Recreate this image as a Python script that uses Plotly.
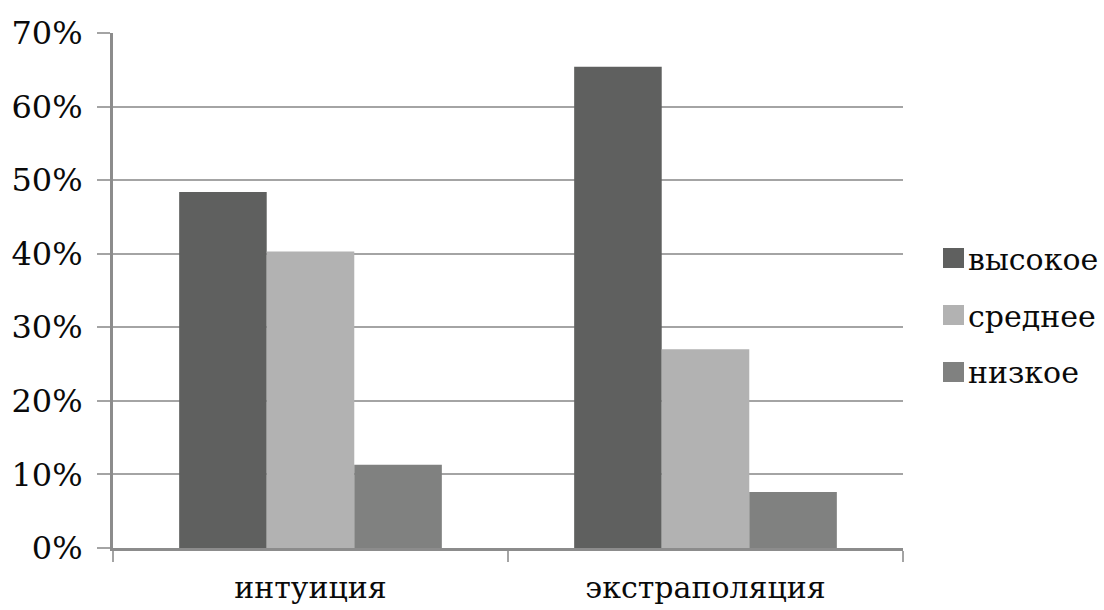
import plotly.graph_objects as go

# Data
categories = ["интуиция", "экстраполяция"]
series_names = ["высокое", "среднее", "низкое"]
high = [0.484, 0.654]
medium = [0.403, 0.270]
low = [0.113, 0.076]
series_values = [high, medium, low]
colors = ["#5f605f", "#b2b2b2", "#808180"]

y_ticks = [0, 0.1, 0.2, 0.3, 0.4, 0.5, 0.6, 0.7]

FONT = "DejaVu Serif"
W, H = 1104, 610
M_L, M_R, M_T, M_B = 113, 201, 33, 62

fig = go.Figure()
for name, vals, col in zip(series_names, series_values, colors):
    fig.add_trace(go.Bar(
        x=categories, y=vals, name=name,
        marker=dict(color=col, line=dict(width=0)),
        showlegend=False,
    ))

# Legend drawn as swatches + labels to the right of the plot area
plot_w = W - M_L - M_R
plot_h = H - M_T - M_B
def px_x(px):
    return (px - M_L) / plot_w
def px_y(py):
    return (H - M_B - py) / plot_h

leg_left, sw_w, sw_h = 943, 21, 20
leg_centers = [258, 315, 372]
shapes = []
annotations = []
for name, col, cy in zip(series_names, colors, leg_centers):
    shapes.append(dict(
        type="rect", xref="paper", yref="paper",
        x0=px_x(leg_left), x1=px_x(leg_left + sw_w),
        y0=px_y(cy + sw_h / 2), y1=px_y(cy - sw_h / 2),
        fillcolor=col, line=dict(width=0),
    ))
    annotations.append(dict(
        xref="paper", yref="paper", x=px_x(leg_left + sw_w + 2), y=px_y(cy + 1),
        xanchor="left", yanchor="middle", text=name, showarrow=False,
        font=dict(family=FONT, size=30, color="#0a0a0a"),
    ))

fig.update_layout(
    width=W, height=H,
    margin=dict(l=M_L, r=M_R, t=M_T, b=M_B, pad=0),
    paper_bgcolor="white", plot_bgcolor="white",
    barmode="group", bargap=0.335, bargroupgap=0,
    font=dict(family=FONT, size=30, color="#0a0a0a"),
    shapes=shapes, annotations=annotations,
)
fig.update_yaxes(
    range=[0, 0.7], tickvals=y_ticks, tickformat=".0%",
    tickfont=dict(size=32),
    showgrid=True, gridcolor="#a4a4a4", gridwidth=2,
    showline=True, linecolor="#8c8c8c", linewidth=3,
    ticks="outside", ticklen=13, tickcolor="#a4a4a4", tickwidth=2,
    ticklabelstandoff=8, zeroline=False, automargin=False,
)
fig.update_xaxes(
    showline=True, linecolor="#8c8c8c", linewidth=3,
    ticks="outside", tickson="boundaries", ticklen=11,
    tickcolor="#a4a4a4", tickwidth=2, showgrid=False,
    ticklabelstandoff=11, automargin=False,
)

fig.write_html("out.html")
